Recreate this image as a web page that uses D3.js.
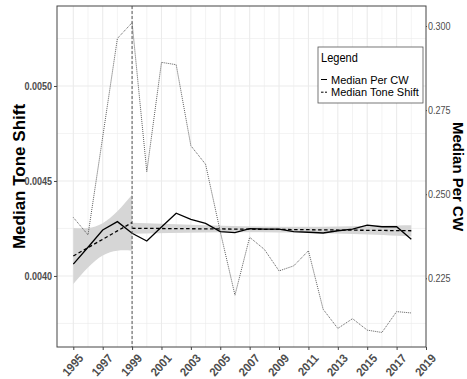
<!DOCTYPE html>
<html>
<head>
<meta charset="utf-8">
<script src="https://cdn.jsdelivr.net/npm/d3@7"></script>
<style>
  html, body { margin: 0; padding: 0; background: #fff; }
  svg { display: block; }
</style>
</head>
<body>
<svg id="chart" width="467" height="379"></svg>
<script>
// ---- data ----
const years = d3.range(1995, 2019);

// Median tone shift (left axis)
const toneShift = [0.004062, 0.004151, 0.004242, 0.004286, 0.004225, 0.004184,
  0.004258, 0.004330, 0.004298, 0.004277, 0.004233, 0.004228, 0.004249, 0.004246,
  0.004247, 0.004233, 0.004230, 0.004226, 0.004238, 0.004246, 0.004267, 0.004259,
  0.004259, 0.004193];

// Median per CW (right axis)
const perCW = [0.2431, 0.2379, 0.2670, 0.2963, 0.3010, 0.2567, 0.2892, 0.2885,
  0.2644, 0.2589, 0.2389, 0.2200, 0.2372, 0.2336, 0.2272, 0.2287, 0.2332, 0.2158,
  0.2101, 0.2130, 0.2096, 0.2089, 0.2151, 0.2147];

// Linear trend before the 1999 break, with its confidence band
const fitPreYears = [1995, 1996, 1997, 1998, 1999];
const fitPre      = [0.004105, 0.004149, 0.004193, 0.004237, 0.004281];
const fitPreLow   = [0.003958, 0.004045, 0.004108, 0.004133, 0.004133];
const fitPreHigh  = [0.004253, 0.004253, 0.004278, 0.004341, 0.004428];

// Linear trend after the break, with its confidence band
const fitPostYears = [1999, 2004, 2009, 2014, 2018];
const fitPost      = [0.004251, 0.004248, 0.004245, 0.004241, 0.004238];
const fitPostLow   = [0.004222, 0.004229, 0.004229, 0.004221, 0.004209];
const fitPostHigh  = [0.004280, 0.004267, 0.004259, 0.004262, 0.004267];

const breakYear = 1999;

const xTicks = d3.range(1995, 2020, 2);
const xMinor = d3.range(1996, 2019, 2);
const leftTicks = [0.0040, 0.0045, 0.0050];
const leftMinor = [0.00375, 0.00425, 0.00475, 0.00525];
const rightTicks = [0.225, 0.250, 0.275, 0.300];

const legendItems = ["Median Per CW", "Median Tone Shift"];

// ---- layout ----
const svg = d3.select("#chart");
const panel = { left: 57, right: 426, top: 6, bottom: 347 };

const x = d3.scaleLinear().domain([1993.89, 2019]).range([panel.left, panel.right]);
const yL = d3.scaleLinear().domain([0.003626, 0.005421]).range([panel.bottom, panel.top]);
const yR = d3.scaleLinear().domain([0.20458, 0.30595]).range([panel.bottom, panel.top]);

const sans = "'Liberation Sans', Arial, sans-serif";

// squeeze text horizontally to a condensed look
function condense(sel, k = 0.82) {
  sel.each(function () {
    const w = this.getComputedTextLength();
    this.setAttribute("textLength", (w * k).toFixed(2));
    this.setAttribute("lengthAdjust", "spacingAndGlyphs");
  });
}

// grid
const grid = svg.append("g");
grid.selectAll(".vmin").data(xMinor).join("line")
  .attr("x1", d => x(d)).attr("x2", d => x(d))
  .attr("y1", panel.top).attr("y2", panel.bottom)
  .attr("stroke", "#ebebeb").attr("stroke-width", 0.6);
grid.selectAll(".vmaj").data(xTicks.filter(d => x(d) < panel.right - 1)).join("line")
  .attr("x1", d => x(d)).attr("x2", d => x(d))
  .attr("y1", panel.top).attr("y2", panel.bottom)
  .attr("stroke", "#ebebeb").attr("stroke-width", 1.1);
grid.selectAll(".hmin").data(leftMinor).join("line")
  .attr("x1", panel.left).attr("x2", panel.right)
  .attr("y1", d => yL(d)).attr("y2", d => yL(d))
  .attr("stroke", "#ebebeb").attr("stroke-width", 0.6);
grid.selectAll(".hmaj").data(leftTicks).join("line")
  .attr("x1", panel.left).attr("x2", panel.right)
  .attr("y1", d => yL(d)).attr("y2", d => yL(d))
  .attr("stroke", "#ebebeb").attr("stroke-width", 1.1);

// confidence bands
const band = d3.area().curve(d3.curveNatural)
  .x(d => x(d.yr)).y0(d => yL(d.lo)).y1(d => yL(d.hi));
const pre = fitPreYears.map((yr, i) => ({ yr, v: fitPre[i], lo: fitPreLow[i], hi: fitPreHigh[i] }));
const post = fitPostYears.map((yr, i) => ({ yr, v: fitPost[i], lo: fitPostLow[i], hi: fitPostHigh[i] }));
svg.append("path").datum(pre).attr("d", band).attr("fill", "#d6d6d6");
svg.append("path").datum(post).attr("d", band).attr("fill", "#d6d6d6");

// Median per CW (dotted, right axis)
svg.append("path")
  .datum(years.map((yr, i) => ({ yr, v: perCW[i] })))
  .attr("d", d3.line().x(d => x(d.yr)).y(d => yR(d.v)))
  .attr("fill", "none").attr("stroke", "#333").attr("stroke-width", 0.8)
  .attr("stroke-dasharray", "1,1");

// Median tone shift (solid)
svg.append("path")
  .datum(years.map((yr, i) => ({ yr, v: toneShift[i] })))
  .attr("d", d3.line().x(d => x(d.yr)).y(d => yL(d.v)))
  .attr("fill", "none").attr("stroke", "#000").attr("stroke-width", 1.3);

// trend lines (dashed)
const fitLine = d3.line().x(d => x(d.yr)).y(d => yL(d.v));
[pre, post].forEach(seg => {
  svg.append("path").datum(seg).attr("d", fitLine)
    .attr("fill", "none").attr("stroke", "#000").attr("stroke-width", 1.3)
    .attr("stroke-dasharray", "3.5,2.5");
});

// break marker
svg.append("line")
  .attr("x1", x(breakYear)).attr("x2", x(breakYear))
  .attr("y1", panel.top).attr("y2", panel.bottom)
  .attr("stroke", "#555").attr("stroke-width", 1).attr("stroke-dasharray", "3,2");

// panel border
svg.append("rect")
  .attr("x", panel.left).attr("y", panel.top)
  .attr("width", panel.right - panel.left).attr("height", panel.bottom - panel.top)
  .attr("fill", "none").attr("stroke", "#444").attr("stroke-width", 1);

// axes
const axL = svg.append("g").attr("transform", `translate(${panel.left},0)`)
  .call(d3.axisLeft(yL).tickValues(leftTicks).tickFormat(d3.format(".4f")).tickSize(3).tickPadding(2));
axL.select(".domain").remove();
axL.selectAll("line").attr("stroke", "#444");
axL.selectAll("text").attr("font-family", sans).attr("font-weight", "bold")
  .attr("font-size", 11).attr("fill", "#4d4d4d").call(condense);

const axR = svg.append("g").attr("transform", `translate(${panel.right},0)`)
  .call(d3.axisRight(yR).tickValues(rightTicks).tickFormat(d3.format(".3f")).tickSize(1).tickPadding(1));
axR.select(".domain").remove();
axR.selectAll("line").attr("stroke", "#444");
axR.selectAll("text").attr("font-family", sans)
  .attr("font-size", 11).attr("fill", "#4d4d4d").call(condense);

const axB = svg.append("g").attr("transform", `translate(0,${panel.bottom})`)
  .call(d3.axisBottom(x).tickValues(xTicks).tickFormat(d3.format("d")).tickSize(3).tickPadding(0));
axB.select(".domain").remove();
axB.selectAll("line").attr("stroke", "#444");
axB.selectAll("text")
  .attr("font-family", sans).attr("font-weight", "bold")
  .attr("font-size", 12).attr("fill", "#4d4d4d")
  .attr("text-anchor", "end").attr("x", 0).attr("y", 0).attr("dy", "0.71em")
  .attr("transform", "translate(4,6) rotate(-48)")
  .call(condense, 0.92);

// axis titles
svg.append("text")
  .attr("transform", `translate(25,${(panel.top + panel.bottom) / 2}) rotate(-90)`)
  .attr("text-anchor", "middle")
  .attr("font-family", sans).attr("font-weight", "bold").attr("font-size", 17)
  .text("Median Tone Shift");
svg.append("text")
  .attr("transform", `translate(453,${(panel.top + panel.bottom) / 2}) rotate(90)`)
  .attr("text-anchor", "middle")
  .attr("font-family", sans).attr("font-weight", "bold").attr("font-size", 15)
  .text("Median Per CW");

// legend
const lg = svg.append("g").attr("transform", "translate(318,47)");
lg.append("rect").attr("width", 105).attr("height", 56)
  .attr("fill", "#fff").attr("stroke", "#555").attr("stroke-width", 0.8);
lg.append("text").attr("x", 3).attr("y", 15)
  .attr("font-family", sans).attr("font-size", 12).text("Legend").call(condense, 0.92);
const dashes = [null, "2.5,1.5"];
legendItems.forEach((name, i) => {
  const yy = 32.5 + i * 12.7;
  lg.append("line").attr("x1", 3).attr("x2", 9).attr("y1", yy).attr("y2", yy)
    .attr("stroke", "#000").attr("stroke-width", 1)
    .attr("stroke-dasharray", dashes[i]);
  lg.append("text").attr("x", 13).attr("y", yy + 4)
    .attr("font-family", sans).attr("font-size", 11).text(name);
});
</script>
</body>
</html>
